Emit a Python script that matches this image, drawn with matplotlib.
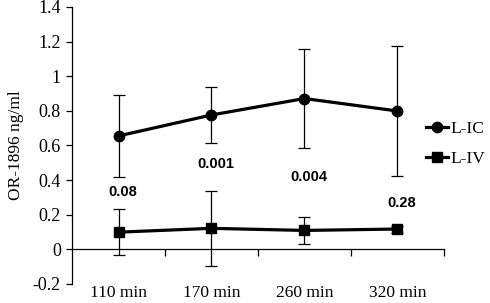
import matplotlib.pyplot as plt
from matplotlib.lines import Line2D
from matplotlib.transforms import blended_transform_factory

# dados
tempos = ["110 min", "170 min", "260 min", "320 min"]
lic_media = [0.655, 0.776, 0.871, 0.799]
lic_erro = [0.237, 0.161, 0.285, 0.375]
liv_media = [0.099, 0.121, 0.109, 0.117]
liv_erro = [0.134, 0.216, 0.078, 0.02]
p_valores = ["0.08", "0.001", "0.004", "0.28"]
p_altura = [0.33, 0.49, 0.416, 0.27]

plt.rcParams['font.family'] = ['Liberation Serif', 'DejaVu Serif']

fig = plt.figure(figsize=(4.9, 3.03), dpi=100)
ax = fig.add_axes([0.147, 0.063, 0.759, 0.914])

x = list(range(len(tempos)))

ax.errorbar(x, lic_media, yerr=lic_erro, color='black', lw=2.3,
            marker='o', ms=7.5, ecolor='black', elinewidth=0.9,
            capsize=4.5, capthick=0.9)
ax.errorbar(x, liv_media, yerr=liv_erro, color='black', lw=2.3,
            marker='s', ms=7.5, ecolor='black', elinewidth=0.9,
            capsize=4.5, capthick=0.9)

# valores de p em negrito
for xi, txt, h in zip(x, p_valores, p_altura):
    ax.text(xi + 0.05, h, txt, ha='center', va='center', fontsize=10.5,
            fontweight='bold', family=['Liberation Sans', 'DejaVu Sans'])

ax.set_xlim(-0.5, len(tempos) - 0.5)
ax.set_ylim(-0.2, 1.4)
ax.set_yticks([-0.2, 0, 0.2, 0.4, 0.6, 0.8, 1, 1.2, 1.4])
ax.set_yticklabels(['-0.2', '0', '0.2', '0.4', '0.6', '0.8', '1', '1.2', '1.4'])
ax.tick_params(axis='y', direction='out', length=4, width=0.9, labelsize=13, pad=4)

# eixo x passa pelo zero, rotulos embaixo
ax.spines['bottom'].set_position(('data', 0))
ax.spines['top'].set_visible(False)
ax.spines['right'].set_visible(False)
ax.spines['left'].set_linewidth(0.9)
ax.spines['bottom'].set_linewidth(0.9)
ax.set_xticks([i + 0.5 for i in x])
ax.set_xticklabels([])
ax.tick_params(axis='x', direction='out', length=5, width=0.9)

trans = blended_transform_factory(ax.transData, ax.transAxes)
for xi, lab in zip(x, tempos):
    ax.text(xi, -0.005, lab, transform=trans, ha='center', va='top', fontsize=12.5)

ax.set_ylabel('OR-1896 ng/ml', fontsize=12.5, labelpad=6)

# legenda sem barras de erro
h1 = Line2D([], [], color='black', lw=2.3, marker='o', ms=7.5)
h2 = Line2D([], [], color='black', lw=2.3, marker='s', ms=7.5)
fig.legend([h1, h2], ['L-IC', 'L-IV'], loc='center left',
           bbox_to_anchor=(0.855, 0.525), frameon=False,
           handlelength=1.3, handletextpad=0.1, labelspacing=0.75,
           fontsize=12.5, borderaxespad=0)

fig.savefig('out.png', dpi=100)
